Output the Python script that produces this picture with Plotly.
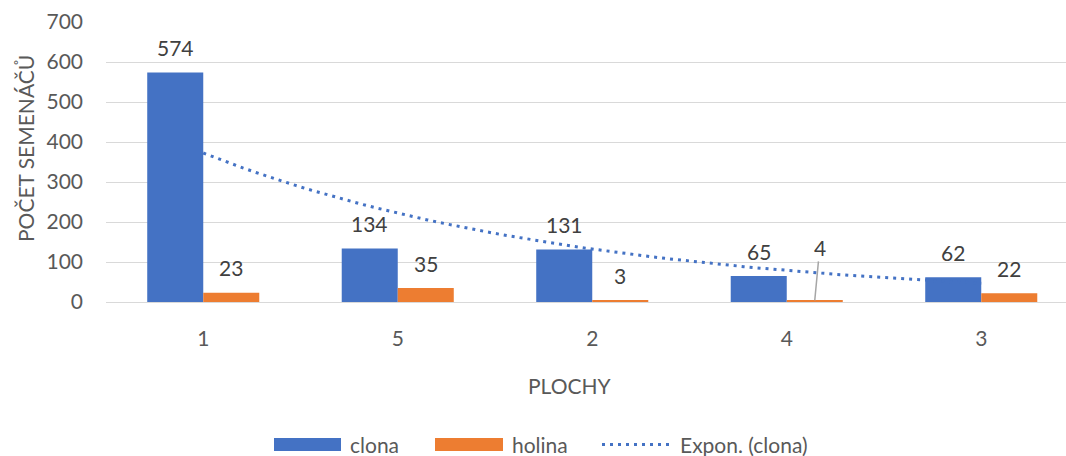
import numpy as np
import plotly.graph_objects as go

# Plot areas in display order and seedling counts
categories = ["1", "5", "2", "4", "3"]
clona = [574, 134, 131, 65, 62]
holina = [23, 35, 3, 4, 22]
y_ticks = [0, 100, 200, 300, 400, 500, 600, 700]

BLUE = "#4472C4"
ORANGE = "#ED7D31"
TEXT = "#595959"
LABEL = "#404040"
GRID = "#D9D9D9"
FONT = "Lato"

W, H = 1066, 456
L, R, T, B = 106, 0, 22, 154
plot_w = W - L - R
plot_h = H - T - B
base_y = H - B


def px(x):
    return (x - L) / plot_w


def py(y):
    return (base_y - y) / plot_h


xpos = list(range(len(categories)))
bar_w = 0.288

# Exponential trendline fitted to clona (least squares on ln y, x = 1..n)
xi = np.arange(1, len(clona) + 1)
b, ln_a = np.polyfit(xi, np.log(clona), 1)
xs = np.linspace(1, len(clona), 60)
trend = np.exp(ln_a) * np.exp(b * xs)

fig = go.Figure()
fig.add_trace(go.Bar(x=xpos, y=clona, name="clona", marker_color=BLUE,
                     marker_line_width=0, width=bar_w, offset=-bar_w))
fig.add_trace(go.Bar(x=xpos, y=holina, name="holina", marker_color=ORANGE,
                     marker_line_width=0, width=bar_w, offset=0))
fig.add_trace(go.Scatter(x=xs - 1, y=trend, mode="lines", name="Expon. (clona)",
                         line=dict(color=BLUE, width=3, dash="3px,5px"),
                         hoverinfo="skip"))

lab_font = dict(family=FONT, size=21, color=LABEL)
annotations = []
half = bar_w / 2
for i, v in enumerate(clona):
    annotations.append(dict(x=i - half, y=v, text=str(v), showarrow=False,
                            yshift=25, font=lab_font))
for i, v in enumerate(holina):
    if categories[i] == "4":
        annotations.append(dict(x=i + half, y=v, text=str(v), showarrow=True,
                                arrowhead=0, arrowwidth=1.5, arrowcolor="#A6A6A6",
                                ax=5, ay=-53, standoff=0, font=lab_font))
    else:
        annotations.append(dict(x=i + half, y=v, text=str(v), showarrow=False,
                                yshift=25, font=lab_font))

ax_font = dict(family=FONT, size=21, color=TEXT)
# axis titles
annotations.append(dict(xref="paper", yref="paper", x=px(25), y=py(149),
                        xanchor="center", yanchor="middle",
                        text="POČET SEMENÁČŮ", textangle=-90, showarrow=False,
                        font=ax_font))
annotations.append(dict(xref="paper", yref="paper", x=px(570), y=py(385),
                        xanchor="center", yanchor="middle",
                        text="PLOCHY", showarrow=False, font=ax_font))

# legend: swatches and names along the bottom
shapes = []
leg_y = 444.5
legend_items = [
    ("clona", BLUE, "bar", 274, 341),
    ("holina", ORANGE, "bar", 435, 503),
    ("Expon. (clona)", BLUE, "dot", 602, 671),
]
for name, color, kind, x0, x1 in legend_items:
    if kind == "bar":
        shapes.append(dict(type="rect", xref="paper", yref="paper",
                           x0=px(x0), x1=px(x1), y0=py(leg_y + 6.5),
                           y1=py(leg_y - 6.5), fillcolor=color, line_width=0))
    else:
        shapes.append(dict(type="line", xref="paper", yref="paper",
                           x0=px(x0), x1=px(x1), y0=py(leg_y), y1=py(leg_y),
                           line=dict(color=color, width=3, dash="3px,5px")))
    annotations.append(dict(xref="paper", yref="paper", x=px(x1 + 7),
                            y=py(leg_y), xanchor="left", yanchor="middle",
                            text=name, showarrow=False, font=ax_font))

fig.update_layout(
    width=W, height=H,
    margin=dict(l=L, r=R, t=T, b=B, pad=0),
    paper_bgcolor="white", plot_bgcolor="white",
    barmode="overlay",
    showlegend=False,
    font=dict(family=FONT, size=21, color=TEXT),
    annotations=annotations,
    shapes=shapes,
    xaxis=dict(range=[-0.5, -0.5 + plot_w / 194.5], tickmode="array",
               tickvals=xpos, ticktext=categories, showgrid=False,
               zeroline=False, showline=False, ticks="",
               ticklabelstandoff=22, fixedrange=True, automargin=False),
    yaxis=dict(range=[0, 700], tickmode="array", tickvals=y_ticks,
               showgrid=True, gridcolor=GRID, gridwidth=1.3,
               zeroline=True, zerolinecolor=GRID, zerolinewidth=1.3,
               showline=False, ticks="", ticklabelstandoff=22,
               fixedrange=True, automargin=False),
)

fig.write_html("out.html")
